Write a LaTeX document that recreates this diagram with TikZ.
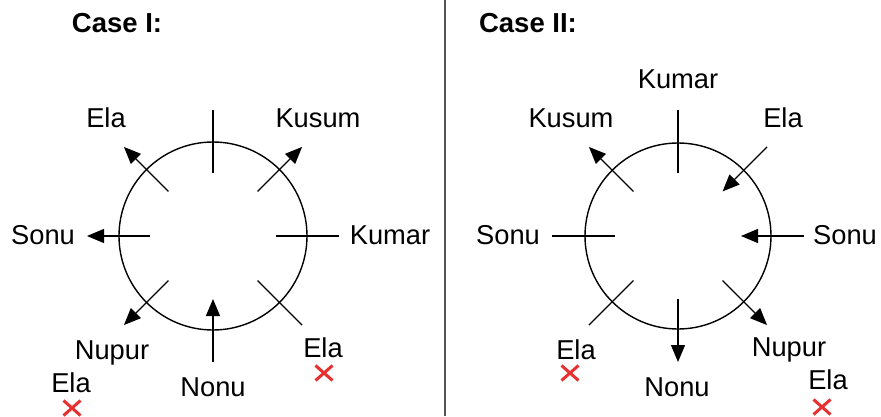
\documentclass[tikz,border=0pt]{standalone}
\usepackage{fontspec}
\setmainfont{Liberation Sans}
\usetikzlibrary{arrows.meta,shapes.misc}
\definecolor{xred}{RGB}{232,48,48}
\definecolor{divgray}{RGB}{85,85,85}
\begin{document}
\begin{tikzpicture}[x=1pt,y=1pt,line cap=butt,line join=miter,>={Triangle[length=17pt,width=14pt]}]
	\tikzset{lbl/.style={inner sep=0pt,text height=19.2pt,text depth=0pt,font=\fontsize{27.3}{27}\selectfont},
		casehead/.style={inner sep=0pt,text height=19.6pt,text depth=0pt,font=\fontsize{27.5}{27}\selectfont\bfseries},
		redx/.style={cross out,draw=xred,line width=3pt,minimum width=14pt,minimum height=12pt,inner sep=0pt},
		spoke/.style={line width=1.25pt},
		rim/.style={line width=1.4pt}}
	\useasboundingbox (0,0) rectangle (881,416);
	\draw[divgray,line width=2pt] (445,0)--(445,416);
	\coordinate (L) at (213,180);
	\coordinate (R) at (678,180);
	\draw[rim] (L) circle (94);
	\draw[rim] (R) circle (93);
	\foreach \c in {L,R}{
		\foreach \a in {0,45,...,315}{
			\coordinate (\c i\a) at ([shift={(\a:63)}]\c);
			\coordinate (\c o\a) at ([shift={(\a:126)}]\c);}}
	\foreach \f/\t/\tip in {Li90/Lo90/-,Li45/Lo45/->,Li0/Lo0/-,Li315/Lo315/-,
		Lo270/Li270/->,Li225/Lo225/->,Li180/Lo180/->,Li135/Lo135/->,
		Ri90/Ro90/-,Ro45/Ri45/->,Ro0/Ri0/->,Ri315/Ro315/->,
		Ri270/Ro270/->,Ri225/Ro225/-,Ri180/Ro180/-,Ri135/Ro135/->}{
		\draw[spoke,\tip] (\f)--(\t);}
	\node[casehead] (caseI) at (117,393) {Case I:};
	\node[lbl] (ela1) at (106,298) {Ela};
	\node[lbl] (kusum1) at (318,298) {Kusum};
	\node[lbl] (sonu1) at (43,181) {Sonu};
	\node[lbl] (kumar1) at (390,181) {Kumar};
	\node[lbl] (nupur1) at (112,66) {Nupur};
	\node[lbl] (ela2) at (71,33) {Ela};
	\node[redx] (x1) at (72,8) {};
	\node[lbl] (nonu1) at (213,29) {Nonu};
	\node[lbl] (ela3) at (323,68) {Ela};
	\node[redx] (x2) at (324,43) {};
	\node[casehead] (caseII) at (528,393) {Case II:};
	\node[lbl] (kumar2) at (678,337) {Kumar};
	\node[lbl] (kusum2) at (571,298) {Kusum};
	\node[lbl] (ela4) at (783,298) {Ela};
	\node[lbl] (sonu2) at (508,181) {Sonu};
	\node[lbl] (sonu3) at (845,181) {Sonu};
	\node[lbl] (ela5) at (576,66) {Ela};
	\node[redx] (x3) at (570,43) {};
	\node[lbl] (nonu2) at (677,29) {Nonu};
	\node[lbl] (nupur2) at (789,69) {Nupur};
	\node[lbl] (ela6) at (828,36) {Ela};
	\node[redx] (x4) at (822,9) {};
\end{tikzpicture}
\end{document}
